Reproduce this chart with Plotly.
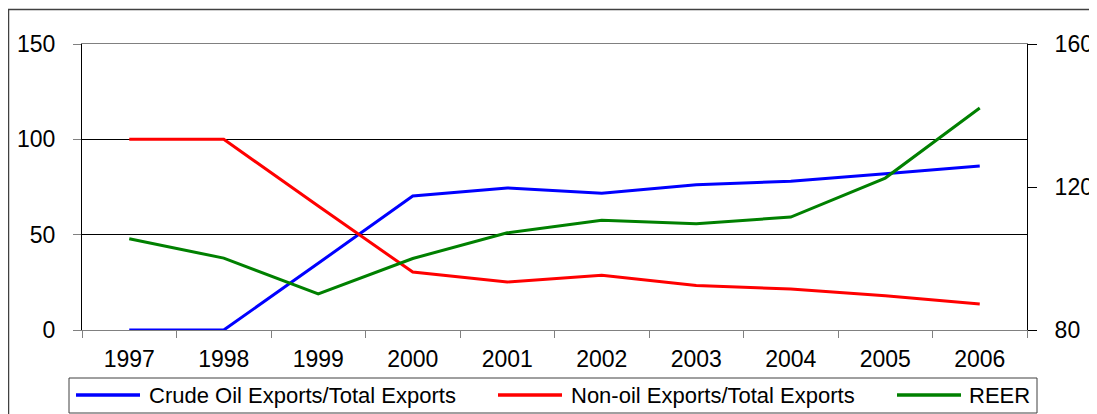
import plotly.graph_objects as go

years = ["1997", "1998", "1999", "2000", "2001", "2002", "2003", "2004", "2005", "2006"]
crude_oil_share = [0, 0, 35, 70.3, 74.5, 71.7, 76.2, 78.0, 82.0, 86.0]
non_oil_share = [100, 100, 65, 30.4, 25.2, 28.7, 23.4, 21.5, 18.0, 13.6]
reer = [105.5, 100.1, 90.1, 100.0, 107.2, 110.7, 109.7, 111.6, 122.5, 142.1]

series_names = ["Crude Oil Exports/Total Exports", "Non-oil Exports/Total Exports", "REER"]
series_colors = ["#0000FF", "#FF0000", "#008000"]

# page is offset by the 8px default body margin
OFF = 8
W, H = 1097 - OFF, 414 - OFF
L, R, T, B = 82 - OFF, 1027 - OFF, 44 - OFF, 330 - OFF
FONT = "Liberation Sans, Arial, sans-serif"
TICK_SIZE = 23


def px(x):
    # x given in page pixels
    return (x - OFF - L) / (R - L)


def py(y):
    return (B - (y - OFF)) / (B - T)


fig = go.Figure()
fig.add_trace(go.Scatter(x=years, y=crude_oil_share, mode="lines", name=series_names[0],
                         line=dict(color=series_colors[0], width=3)))
fig.add_trace(go.Scatter(x=years, y=non_oil_share, mode="lines", name=series_names[1],
                         line=dict(color=series_colors[1], width=3)))
fig.add_trace(go.Scatter(x=years, y=reer, mode="lines", name=series_names[2],
                         line=dict(color=series_colors[2], width=3), yaxis="y2"))

shapes = []
annotations = []
# outer chart frame
shapes.append(dict(type="rect", xref="paper", yref="paper",
                   x0=px(8.5), x1=px(1120), y0=py(9.5), y1=py(440),
                   line=dict(color="#404040", width=1.5), layer="above"))
# legend box
shapes.append(dict(type="rect", xref="paper", yref="paper",
                   x0=px(69), x1=px(1037), y0=py(378), y1=py(413),
                   line=dict(color="#404040", width=1), layer="above"))
leg_line_x = [76, 498, 897]
leg_text_x = [147, 569, 967]
leg_y = 395
for i in range(3):
    shapes.append(dict(type="line", xref="paper", yref="paper",
                       x0=px(leg_line_x[i]), x1=px(leg_line_x[i] + 64),
                       y0=py(leg_y), y1=py(leg_y),
                       line=dict(color=series_colors[i], width=3.5)))
    annotations.append(dict(xref="paper", yref="paper", x=px(leg_text_x[i]), y=py(leg_y),
                            text=series_names[i], showarrow=False, xanchor="left",
                            yanchor="middle", font=dict(family=FONT, size=22, color="black")))

fig.update_layout(
    width=W, height=H,
    margin=dict(l=L, r=W - R, t=T, b=H - B, pad=0, autoexpand=False),
    paper_bgcolor="white", plot_bgcolor="white",
    showlegend=False,
    font=dict(family=FONT, size=22, color="black"),
    shapes=shapes,
    annotations=annotations,
    xaxis=dict(type="category", range=[-0.5, 9.5], tickson="boundaries", ticks="outside",
               ticklen=7, tickcolor="#808080", showline=True, linecolor="#808080",
               linewidth=1, mirror=True, showgrid=False, automargin=False,
               ticklabelstandoff=8, tickfont=dict(family=FONT, size=TICK_SIZE, color="black")),
    yaxis=dict(range=[0, 150], dtick=50, tick0=0, ticks="outside", ticklen=8,
               tickcolor="#808080", showline=True, linecolor="black", linewidth=1,
               showgrid=True, gridcolor="black", gridwidth=1, zeroline=False,
               automargin=False, ticklabelstandoff=13,
               tickfont=dict(family=FONT, size=TICK_SIZE, color="black")),
    yaxis2=dict(range=[80, 160], dtick=40, tick0=80, overlaying="y", side="right",
                ticks="outside", ticklen=9, tickcolor="black", showline=True,
                linecolor="black", linewidth=1, showgrid=False, zeroline=False,
                automargin=False, ticklabelstandoff=13,
                tickfont=dict(family=FONT, size=TICK_SIZE, color="black")),
)

fig.write_html("out.html")
